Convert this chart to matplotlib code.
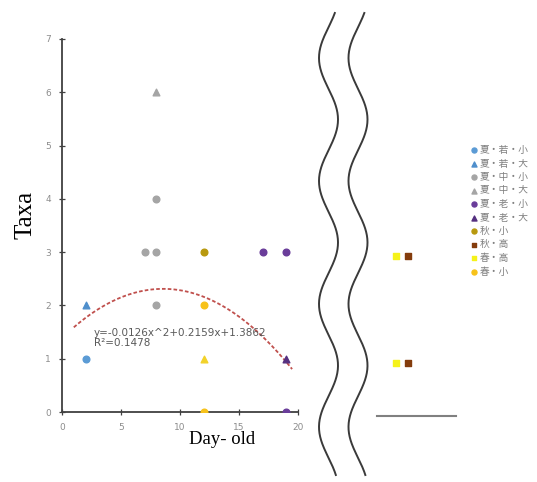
import numpy as np
import matplotlib
matplotlib.use("Agg")
import matplotlib.pyplot as plt
from matplotlib.lines import Line2D

plt.rcParams['font.family'] = ['Noto Sans CJK JP', 'DejaVu Sans']

# ---- data ----
labels = ["夏・若・小", "夏・若・大", "夏・中・小", "夏・中・大", "夏・老・小",
          "夏・老・大", "秋・小", "秋・高", "春・高", "春・小"]

s_young_small_x = [2];            s_young_small_y = [1]
s_young_large_x = [2];            s_young_large_y = [2]
s_mid_small_x = [7, 8, 8, 8];     s_mid_small_y = [3, 3, 2, 4]
s_mid_large_x = [8];              s_mid_large_y = [6]
s_old_small_x = [17, 19, 19];     s_old_small_y = [3, 3, 0]
s_old_large_x = [19];             s_old_large_y = [1]
autumn_small_x = [12];            autumn_small_y = [3]
spring_small_x = [12, 12];        spring_small_y = [2, 0]
extra_tri_x = [12];               extra_tri_y = [1]
# right (broken-axis) panel
spring_high_x = [1.6, 1.6];       spring_high_y = [3, 1]
autumn_high_x = [2.6, 2.6];       autumn_high_y = [3, 1]

trend_coef = [-0.0126, 0.2159, 1.3862]
trend_range = (1.0, 19.5)
trend_label = "y=-0.0126x^2+0.2159x+1.3862\nR²=0.1478"

x_ticks = [0, 5, 10, 15, 20]
y_ticks = [0, 1, 2, 3, 4, 5, 6, 7]

W, H = 537, 482
fig = plt.figure(figsize=(W / 100, H / 100), dpi=100)

def fx(px):
    return px / W

def fy(py):
    return 1 - py / H

ax = fig.add_axes([fx(62), fy(412), fx(298) - fx(62), fy(39) - fy(412)])
ax.set_xlim(0, 20)
ax.set_ylim(0, 7)
for sp in ['top', 'right']:
    ax.spines[sp].set_visible(False)
for sp in ['left', 'bottom']:
    ax.spines[sp].set_color('#404040')
    ax.spines[sp].set_linewidth(1.3)
ax.set_xticks(x_ticks)
ax.set_yticks(y_ticks)
ax.tick_params(direction='inout', length=4, width=0.9, color='#404040',
               labelsize=6.5, labelcolor='#8c8c8c', pad=6)
for t in ax.get_xticklabels() + ax.get_yticklabels():
    t.set_family(['DejaVu Sans'])

ms = 23
handles = []
handles.append(ax.scatter(s_young_small_x, s_young_small_y, s=ms, marker='o', color='#5B9BD5', zorder=3))
handles.append(ax.scatter(s_young_large_x, s_young_large_y, s=ms, marker='^', color='#4F8FCC', zorder=3))
handles.append(ax.scatter(s_mid_small_x, s_mid_small_y, s=ms, marker='o', color='#A5A5A5', zorder=3))
handles.append(ax.scatter(s_mid_large_x, s_mid_large_y, s=ms, marker='^', color='#A5A5A5', zorder=3))
handles.append(ax.scatter(s_old_small_x, s_old_small_y, s=ms, marker='o', color='#6A3D9A', zorder=3))
handles.append(ax.scatter(s_old_large_x, s_old_large_y, s=ms, marker='^', color='#553080', zorder=3))
handles.append(ax.scatter(autumn_small_x, autumn_small_y, s=ms, marker='o', color='#B8990F', zorder=3))
ax.scatter(extra_tri_x, extra_tri_y, s=ms, marker='^', color='#F2D22A', zorder=3)
h_spring_small = ax.scatter(spring_small_x, spring_small_y, s=ms, marker='o', color='#F7C21A', zorder=3)

xs = np.linspace(trend_range[0], trend_range[1], 200)
ax.plot(xs, np.polyval(trend_coef, xs), color='#C0504D', lw=1.3,
        linestyle=(0, (2, 1.2)), zorder=2)
ax.text(2.7, 1.38, trend_label, fontsize=7.5, color='#595959', va='center',
        ha='left', family=['DejaVu Sans'], linespacing=1.0)

# right panel
ax2 = fig.add_axes([fx(377), fy(416), fx(456) - fx(377), fy(43) - fy(416)])
ax2.set_xlim(0, 6.7)
ax2.set_ylim(0, 7)
for sp in ['top', 'right', 'left']:
    ax2.spines[sp].set_visible(False)
ax2.spines['bottom'].set_color('#808080')
ax2.spines['bottom'].set_linewidth(1.5)
ax2.set_xticks([])
ax2.set_yticks([])
ax2.patch.set_alpha(0)
h_spring_high = ax2.scatter(spring_high_x, spring_high_y, s=22, marker='s', color='#F5F21A', zorder=3)
h_autumn_high = ax2.scatter(autumn_high_x, autumn_high_y, s=22, marker='s', color='#843C0C', zorder=3)

handles += [h_autumn_high, h_spring_high, h_spring_small]

leg = fig.legend(handles, labels, loc='upper left', bbox_to_anchor=(fx(469), fy(145)),
                 frameon=False, fontsize=7, labelcolor='#7f7f7f', handletextpad=0.1,
                 labelspacing=0.36, markerscale=0.75, handlelength=1.0,
                 borderaxespad=0, borderpad=0)

# axis titles
fig.text(fx(222), fy(440), "Day- old", ha='center', va='center', fontsize=13.5,
         family=['Liberation Serif'], color='black')
fig.text(fx(25), fy(215), "Taxa", ha='center', va='center', fontsize=18,
         rotation=90, family=['Liberation Serif'], color='black')

# break (wavy) lines
py = np.linspace(13, 475, 400)
period = 123.0
amp = 9.5
for cx in (328.5, 358.0):
    px = cx - amp * np.cos(2 * np.pi * (py - 58) / period)
    fig.add_artist(Line2D(fx(px), fy(py), transform=fig.transFigure,
                          color='#3a3a3a', lw=1.4))

fig.savefig("out.png", dpi=100)
